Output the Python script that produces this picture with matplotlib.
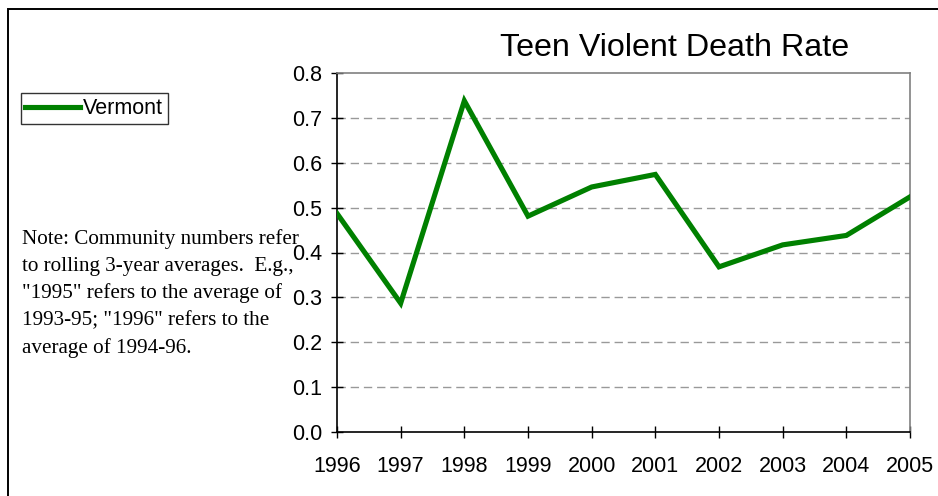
import matplotlib
matplotlib.use("Agg")
import matplotlib.pyplot as plt
from matplotlib.lines import Line2D
from matplotlib.patches import Rectangle

years = ["1996", "1997", "1998", "1999", "2000", "2001", "2002", "2003", "2004", "2005"]
vermont = [0.487, 0.287, 0.738, 0.481, 0.546, 0.574, 0.368, 0.417, 0.438, 0.524]
y_ticks = [0.0, 0.1, 0.2, 0.3, 0.4, 0.5, 0.6, 0.7, 0.8]
title = "Teen Violent Death Rate"
series_name = "Vermont"
note_lines = [
    "Note: Community numbers refer",
    "to rolling 3-year averages.  E.g.,",
    "\"1995\" refers to the average of",
    "1993-95; \"1996\" refers to the",
    "average of 1994-96.",
]

W, H = 938, 496
plt.rcParams['font.family'] = ['Liberation Sans', 'DejaVu Sans']

fig = plt.figure(figsize=(W / 100, H / 100), dpi=100)
fig.patch.set_facecolor('white')

# outer chart frame (cropped on right and bottom)
fig.patches.append(Rectangle((8 / W, -0.1), 1.2, 1 - 9 / H + 0.1, transform=fig.transFigure,
                             fill=False, edgecolor='black', linewidth=1.4, zorder=0))

ax = fig.add_axes([337 / W, 1 - 432 / H, (910 - 337) / W, (432 - 73) / H])
x = list(range(len(years)))
line, = ax.plot(x, vermont, color='#008000', linewidth=3.7, solid_joinstyle='miter', zorder=3)

ax.set_xlim(0, len(years) - 1)
ax.set_ylim(0, 0.8)
ax.set_xticks(x)
ax.set_xticklabels(years)
ax.set_yticks(y_ticks)
ax.set_yticklabels([f"{v:.1f}" for v in y_ticks])

for v in y_ticks[1:-1]:
    ax.axhline(v, color='#999999', linewidth=1.0, linestyle=(0, (6, 3.5)), zorder=1)

for s in ['left', 'bottom']:
    ax.spines[s].set_color('black')
    ax.spines[s].set_linewidth(1.2)
for s in ['top', 'right']:
    ax.spines[s].set_color('#808080')
    ax.spines[s].set_linewidth(1.2)

ax.tick_params(axis='both', direction='inout', length=8, width=1.0, color='black',
               labelsize=15.5, labelcolor='black')
ax.tick_params(axis='x', pad=13)
ax.tick_params(axis='y', pad=6.5)

fig.text(675 / W, 1 - 56 / H, title, ha='center', va='baseline', fontsize=23.2, color='black')

handle = Line2D([], [], color='#008000', linewidth=3.7)
leg = fig.legend([handle], [series_name], loc='upper left',
                 bbox_to_anchor=(20.7 / W, 1 - 93.3 / H), bbox_transform=fig.transFigure,
                 frameon=True, fancybox=False, edgecolor='#333333', framealpha=1,
                 fontsize=15.5, handlelength=2.55, handletextpad=0.12, borderpad=0.22,
                 borderaxespad=0)
leg.get_frame().set_linewidth(1.0)

baselines = [243.5, 270.8, 298.0, 325.3, 352.5]
for txt, yb in zip(note_lines, baselines):
    fig.text(22 / W, 1 - yb / H, txt, ha='left', va='baseline', fontsize=15.2,
             family=['Liberation Serif', 'DejaVu Serif'], color='black')

fig.savefig("out.png", dpi=100, facecolor='white')
